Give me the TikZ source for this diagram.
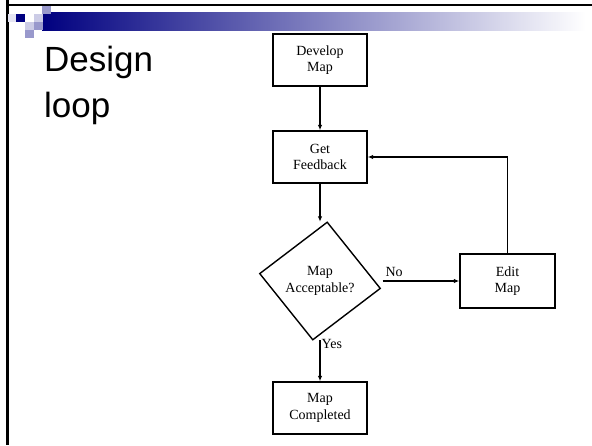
\documentclass[tikz,border=0pt]{standalone}
\usepackage{fontspec}
\setmainfont{Liberation Serif}
\newfontfamily\titlefont{Liberation Sans}
\usetikzlibrary{shapes.geometric,arrows.meta,calc}

\begin{document}
\begin{tikzpicture}[x=1pt,y=1pt,
        caja/.style={draw,line width=1.4pt,minimum width=94pt,minimum height=52pt,align=center,font=\fontsize{14}{16.5}\selectfont},
        rombo/.style={diamond,minimum width=121pt,minimum height=118pt,inner sep=0pt,align=center,font=\fontsize{14}{16.5}\selectfont},
        flecha/.style={line width=1.4pt,-{Latex[length=5.5pt,width=4.5pt]}},
        etiqueta/.style={font=\fontsize{14}{16.5}\selectfont,inner sep=1pt},
        titulo/.style={font=\titlefont\fontsize{35}{42}\selectfont,anchor=base west,inner sep=0pt}]
        %colores
        \colorlet{marino}{blue!50!black}
        \definecolor{lila}{RGB}{153,153,204}
        \definecolor{lilaclaro}{RGB}{204,204,230}
        \definecolor{palido}{RGB}{228,228,242}

        \useasboundingbox (0,0) rectangle (592,445);

        % Marco de la diapositiva
        \draw[line width=2.5pt] (7.5,445) -- (7.5,0);
        \draw[line width=2.2pt] (6,440) -- (592,440);

        % Cuadritos y barra superior
        \shade[left color=marino,middle color=marino!28!white,right color=white] (42,432) rectangle (586,414);
        \foreach \x/\y/\col in {8/431/palido,16/431/marino,34/431/lilaclaro,42/439/lila,25/423/lilaclaro,34/423/lila,25/415/lila}
            \fill[\col] (\x,\y) rectangle +(8.5,-8.5);

        % Titulo
        \node[titulo] (ttl1) at (44,373) {Design};
        \node[titulo] (ttl2) at (44,327) {loop};

        % Nodos del diagrama
        \node[caja] (dev) at (320,385) {Develop\\Map};
        \node[caja] (feed) at (320,288) {Get\\Feedback};
        \node[rombo] (dec) at (320,164) {Map\\Acceptable?};
        \node[caja,minimum width=95pt,minimum height=54pt] (edit) at (507.5,164) {Edit\\Map};
        \node[caja] (done) at (320,37) {Map\\Completed};

        % Rombo, un poco girado
        \draw[line width=1.4pt] ($(dec.center)!1!-7:(dec.north)$) -- ($(dec.center)!1!-7:(dec.east)$)
            -- ($(dec.center)!1!-7:(dec.south)$) -- ($(dec.center)!1!-7:(dec.west)$) -- cycle;

        % Flechas
        \draw[flecha] (dev) -- (feed);
        \draw[flecha] (feed) -- (dec.north);
        \draw[flecha] ([xshift=2pt]dec.east) -- node[etiqueta,above,pos=0.15,yshift=3pt] {No} (edit.west);
        \draw[flecha] (edit.north) |- (feed.east);
        \draw[flecha] (dec.south) -- node[etiqueta,right,pos=0.1] {Yes} (done.north);
    \end{tikzpicture}
\end{document}
